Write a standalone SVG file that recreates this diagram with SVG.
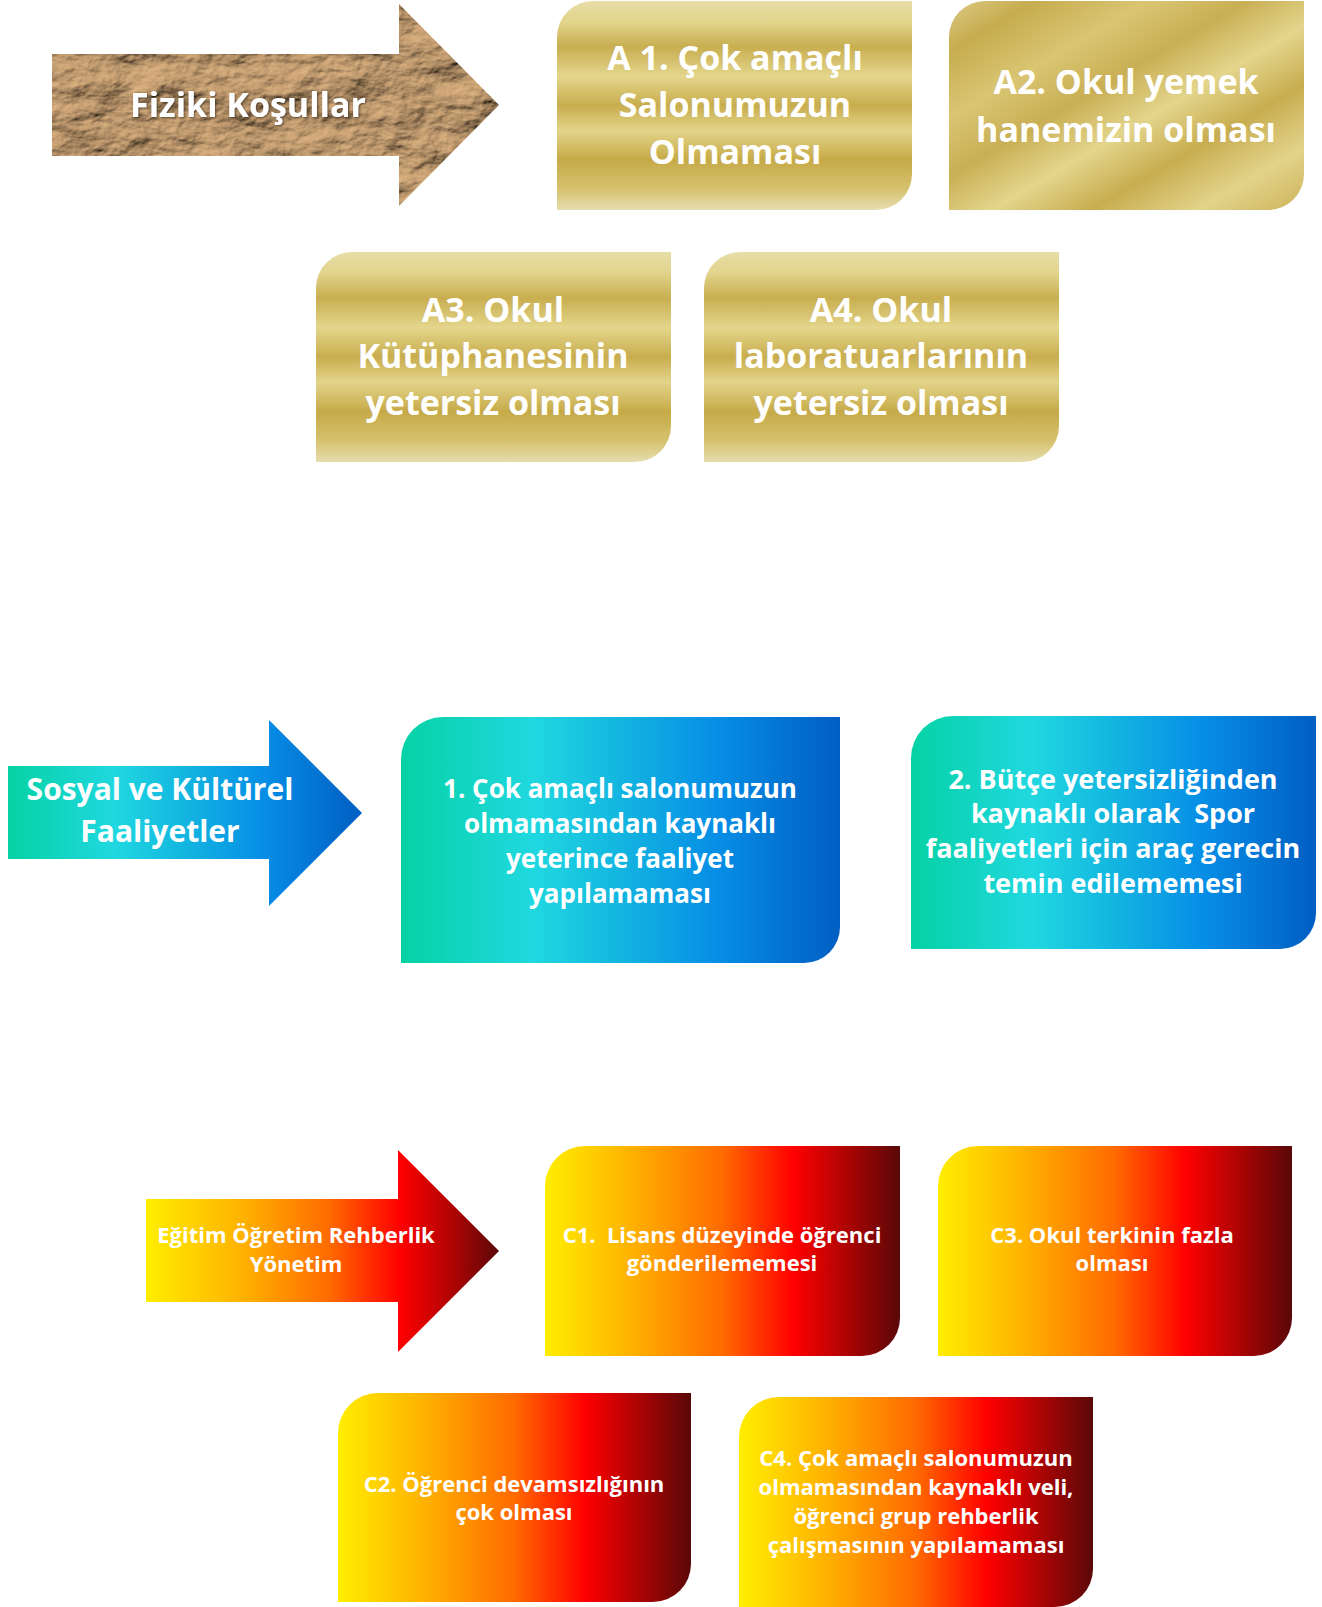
<svg xmlns="http://www.w3.org/2000/svg" width="1322" height="1607" viewBox="0 0 1322 1607">
<defs>
<style>
text{font-family:"Open Sans","Liberation Sans",sans-serif;font-weight:700;fill:#FFFFFF;text-anchor:middle}
.tg{font-size:34px}
.tf{font-size:34px}
.ts{font-size:30px}
.tb1{font-size:26px}
.tb2{font-size:27px}
.tr{font-size:22px}
.gold{fill:url(#goldV)}
.gold2{fill:url(#goldD)}
.blue{fill:url(#blueH)}
.red{fill:url(#redH)}
.redA{fill:url(#redA)}
</style>
<linearGradient id="goldV" x1="0" y1="0" x2="0" y2="1">
<stop offset="0" stop-color="#E7DDA6"/>
<stop offset="0.1" stop-color="#E2D48C"/>
<stop offset="0.22" stop-color="#C8AE50"/>
<stop offset="0.36" stop-color="#E4D68C"/>
<stop offset="0.5" stop-color="#C8AD4E"/>
<stop offset="0.62" stop-color="#E3D48A"/>
<stop offset="0.76" stop-color="#C6AA48"/>
<stop offset="0.9" stop-color="#D6C26E"/>
<stop offset="1" stop-color="#E6DDB0"/>
</linearGradient>
<linearGradient id="goldD" x1="0" y1="0" x2="1" y2="1">
<stop offset="0" stop-color="#DCCB86"/>
<stop offset="0.12" stop-color="#C7AC4F"/>
<stop offset="0.28" stop-color="#D9C572"/>
<stop offset="0.42" stop-color="#C9AF54"/>
<stop offset="0.56" stop-color="#E3D58C"/>
<stop offset="0.7" stop-color="#C8AD50"/>
<stop offset="0.85" stop-color="#E2D38A"/>
<stop offset="1" stop-color="#CDB35A"/>
</linearGradient>
<linearGradient id="blueH" x1="0" y1="0" x2="1" y2="0">
<stop offset="0" stop-color="#05D2A4"/>
<stop offset="0.3" stop-color="#20D8E0"/>
<stop offset="0.5" stop-color="#13B5E0"/>
<stop offset="0.72" stop-color="#068EE6"/>
<stop offset="1" stop-color="#015EC2"/>
</linearGradient>
<linearGradient id="redH" x1="0" y1="0" x2="1" y2="0">
<stop offset="0" stop-color="#FFEE00"/>
<stop offset="0.25" stop-color="#FFB000"/>
<stop offset="0.5" stop-color="#FF6A00"/>
<stop offset="0.7" stop-color="#FF0000"/>
<stop offset="0.86" stop-color="#A80404"/>
<stop offset="1" stop-color="#5A0808"/>
</linearGradient>
<linearGradient id="redA" x1="0" y1="0" x2="1" y2="0">
<stop offset="0" stop-color="#FFEE00"/>
<stop offset="0.28" stop-color="#FFB000"/>
<stop offset="0.52" stop-color="#FF6A00"/>
<stop offset="0.72" stop-color="#FF0000"/>
<stop offset="0.88" stop-color="#A80404"/>
<stop offset="1" stop-color="#5A0808"/>
</linearGradient>
<filter id="crumple" x="0" y="0" width="100%" height="100%">
<feTurbulence type="fractalNoise" baseFrequency="0.018 0.028" numOctaves="5" seed="11" result="n"/>
<feDiffuseLighting in="n" surfaceScale="9" diffuseConstant="1.25" lighting-color="#C9A274" result="l">
<feDistantLight azimuth="235" elevation="40"/>
</feDiffuseLighting>
<feComposite in="l" in2="SourceGraphic" operator="in"/>
</filter>
<filter id="tshadow" x="-10%" y="-30%" width="120%" height="160%">
<feDropShadow dx="1" dy="1" stdDeviation="1" flood-color="#3A2A1A" flood-opacity="0.8"/>
</filter>
</defs>

<g id="connectors"/>

<g id="fiziki-kosullar">
<path d="M52,54 H399 V4 L499,105 L399,206 V156 H52 Z" fill="#A88760" filter="url(#crumple)"/>
<text class="tf" x="248" y="117" filter="url(#tshadow)">Fiziki Koşullar</text>
</g>

<g id="a1">
<path class="gold" d="M593,1 H912 V174 A36,36 0 0 1 876,210 H557 V37 A36,36 0 0 1 593,1 Z"/>
<text class="tg" x="735" y="70">A 1. Çok amaçlı</text>
<text class="tg" x="735" y="117">Salonumuzun</text>
<text class="tg" x="735" y="164">Olmaması</text>
</g>

<g id="a2">
<path class="gold2" d="M985,1 H1304 V174 A36,36 0 0 1 1268,210 H949 V37 A36,36 0 0 1 985,1 Z"/>
<text class="tg" x="1126" y="94">A2. Okul yemek</text>
<text class="tg" x="1126" y="142">hanemizin olması</text>
</g>

<g id="a3">
<path class="gold" d="M352,252 H671 V426 A36,36 0 0 1 635,462 H316 V288 A36,36 0 0 1 352,252 Z"/>
<text class="tg" x="493" y="322">A3. Okul</text>
<text class="tg" x="493" y="368">Kütüphanesinin</text>
<text class="tg" x="493" y="415">yetersiz olması</text>
</g>

<g id="a4">
<path class="gold" d="M740,252 H1059 V426 A36,36 0 0 1 1023,462 H704 V288 A36,36 0 0 1 740,252 Z"/>
<text class="tg" x="881" y="322">A4. Okul</text>
<text class="tg" x="881" y="368">laboratuarlarının</text>
<text class="tg" x="881" y="415">yetersiz olması</text>
</g>

<g id="sosyal-kulturel">
<path class="blue" d="M8,766 H269 V720 L362,813 L269,906 V859 H8 Z"/>
<text class="ts" x="160" y="800">Sosyal ve Kültürel</text>
<text class="ts" x="160" y="842">Faaliyetler</text>
</g>

<g id="b1">
<path class="blue" d="M443,717 H840 V927 A36,36 0 0 1 804,963 H401 V759 A42,42 0 0 1 443,717 Z"/>
<text class="tb1" x="620" y="798">1. Çok amaçlı salonumuzun</text>
<text class="tb1" x="620" y="833">olmamasından kaynaklı</text>
<text class="tb1" x="620" y="868">yeterince faaliyet</text>
<text class="tb1" x="620" y="903">yapılamaması</text>
</g>

<g id="b2">
<path class="blue" d="M953,716 H1316 V913 A36,36 0 0 1 1280,949 H911 V758 A42,42 0 0 1 953,716 Z"/>
<text class="tb2" x="1113" y="789">2. Bütçe yetersizliğinden</text>
<text class="tb2" x="1113" y="823" xml:space="preserve">kaynaklı olarak  Spor</text>
<text class="tb2" x="1113" y="858">faaliyetleri için araç gerecin</text>
<text class="tb2" x="1113" y="893">temin edilememesi</text>
</g>

<g id="egitim-ogretim">
<path class="redA" d="M146,1199 H398 V1150 L499,1251 L398,1352 V1302 H146 Z"/>
<text class="tr" x="296" y="1243">Eğitim Öğretim Rehberlik</text>
<text class="tr" x="296" y="1272">Yönetim</text>
</g>

<g id="c1">
<path class="red" d="M585,1146 H900 V1318 A38,38 0 0 1 862,1356 H545 V1186 A40,40 0 0 1 585,1146 Z"/>
<text class="tr" x="722" y="1243" xml:space="preserve">C1.  Lisans düzeyinde öğrenci</text>
<text class="tr" x="722" y="1271">gönderilememesi</text>
</g>

<g id="c3">
<path class="red" d="M978,1146 H1292 V1318 A38,38 0 0 1 1254,1356 H938 V1186 A40,40 0 0 1 978,1146 Z"/>
<text class="tr" x="1112" y="1243">C3. Okul terkinin fazla</text>
<text class="tr" x="1112" y="1271">olması</text>
</g>

<g id="c2">
<path class="red" d="M378,1393 H691 V1564 A38,38 0 0 1 653,1602 H338 V1433 A40,40 0 0 1 378,1393 Z"/>
<text class="tr" x="514" y="1492">C2. Öğrenci devamsızlığının</text>
<text class="tr" x="514" y="1520">çok olması</text>
</g>

<g id="c4">
<path class="red" d="M779,1397 H1093 V1569 A38,38 0 0 1 1055,1607 H739 V1437 A40,40 0 0 1 779,1397 Z"/>
<text class="tr" x="916" y="1466">C4. Çok amaçlı salonumuzun</text>
<text class="tr" x="916" y="1495">olmamasından kaynaklı veli,</text>
<text class="tr" x="916" y="1524">öğrenci grup rehberlik</text>
<text class="tr" x="916" y="1553">çalışmasının yapılamaması</text>
</g>
</svg>
